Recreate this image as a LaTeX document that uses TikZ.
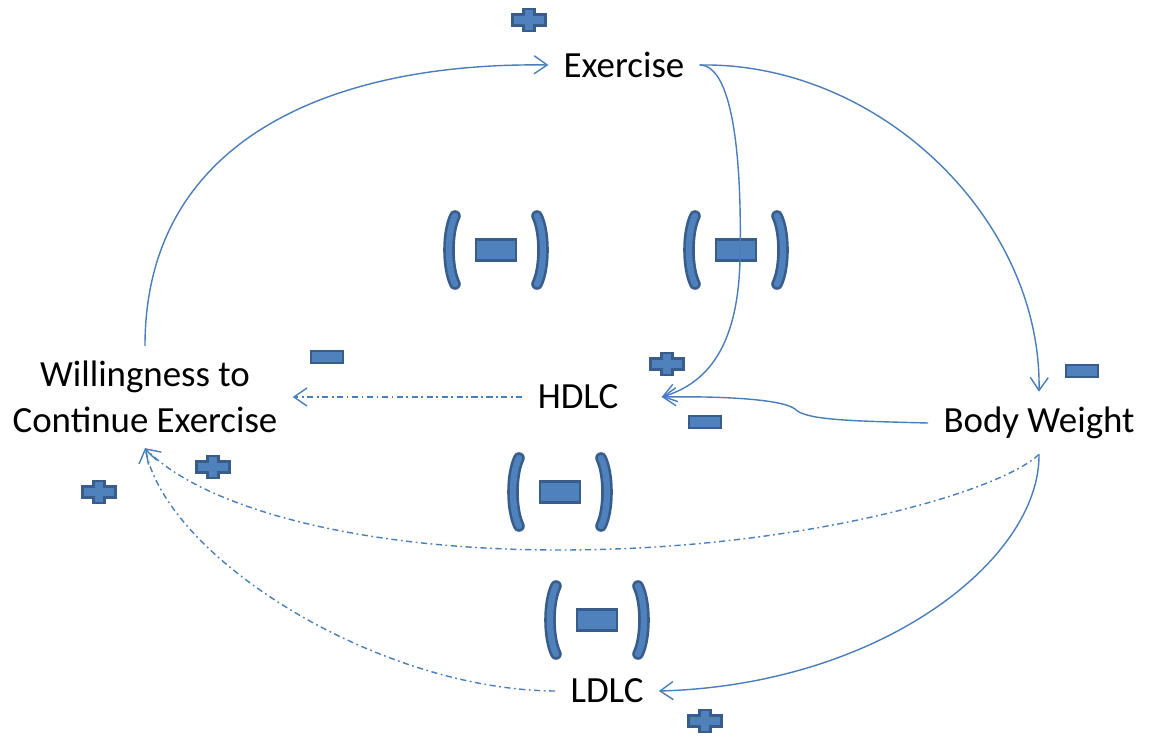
\documentclass[tikz,border=0pt]{standalone}
\usepackage{fontspec}
\setmainfont{Carlito}
\usepackage{xcolor}
\usepackage{tikz}
\usetikzlibrary{arrows.meta}

\definecolor{linkblue}{RGB}{74,126,187}
\definecolor{signblue}{RGB}{79,129,189}
\definecolor{signedge}{RGB}{56,93,138}

\tikzset{
  var/.style={font=\fontsize{21}{26}\selectfont, inner sep=3mm, align=center},
  link/.style={draw=linkblue, line width=0.8pt, -{Straight Barb[length=2.6mm,width=3.6mm]}},
  weak/.style={link, dash pattern=on 3.5pt off 2pt on 1pt off 2pt},
  signfill/.style={fill=signblue, draw=signedge, line width=1.3pt},
  parenedge/.style={draw=signedge, line width=6.6pt, line cap=round},
  parenfill/.style={draw=signblue, line width=3.6pt, line cap=round},
  pics/possign/.style={code={
    \draw[signfill] (-16.5,-5.5) -- (-5.5,-5.5) -- (-5.5,-11) -- (5.5,-11) -- (5.5,-5.5)
      -- (16.5,-5.5) -- (16.5,5.5) -- (5.5,5.5) -- (5.5,11) -- (-5.5,11) -- (-5.5,5.5)
      -- (-16.5,5.5) -- cycle;
  }},
  pics/negsign/.style={code={
    \draw[signfill] (-16,-6) rectangle (16,6);
  }},
  pics/loopneg/.style={code={
    \foreach \s in {-1,1} {
      \draw[parenedge] (\s*41,-34) .. controls (\s*49,-18) and (\s*49,18) .. (\s*41,34);
      \draw[parenfill] (\s*41,-34) .. controls (\s*49,-18) and (\s*49,18) .. (\s*41,34);
    }
    \draw[signfill] (-20,-10.5) rectangle (20,10.5);
  }},
}

\begin{document}
\begin{tikzpicture}[x=0.02cm, y=-0.02cm]
  \useasboundingbox (0,0) rectangle (1153,740);

  % variables
  \node[var] (ex) at (624,65) {Exercise};
  \node[var] (hdlc) at (578,397) {HDLC};
  \node[var] (bw) at (1039,423) {Body Weight};
  \node[var] (will) at (145,397) {Willingness to\\Continue Exercise};
  \node[var] (ldlc) at (607,691) {LDLC};
  \coordinate (hin) at ([xshift=16pt]hdlc.east);

  % loop polarities
  \pic at (496,250) {loopneg};
  \pic at (736,250) {loopneg};
  \pic at (560,492) {loopneg};
  \pic at (597,620) {loopneg};

  % links
  \draw[link] (will.north) .. controls (145,140) and (330,62) .. (ex.west);
  \draw[link] (ex.east) .. controls (880,62) and (1042,220) .. (bw.north);
  \draw[link] (ex.east) .. controls (735,65) and (742,170) .. (740,260)
    .. controls (738,340) and (712,382) .. (hin);
  \draw[link] (bw.west) .. controls (850,421) and (805,420) .. (795,409)
    .. controls (782,399) and (720,396) .. (hin);
  \draw[weak] (hdlc.west) -- (will.east);
  \draw[weak] (bw.south) .. controls (1000,492) and (800,550) .. (560,550)
    .. controls (350,550) and (200,505) .. (will.south);
  \draw[link] (bw.south) .. controls (1040,560) and (880,685) .. (ldlc.east);
  \draw[weak] (ldlc.west) .. controls (380,690) and (168,560) .. (will.south);

  % link polarities
  \pic at (529,20) {possign};
  \pic at (1082,371) {negsign};
  \pic at (667,364) {possign};
  \pic at (705,422) {negsign};
  \pic at (327,357) {negsign};
  \pic at (213,467) {possign};
  \pic at (99,492) {possign};
  \pic at (705,721) {possign};
\end{tikzpicture}
\end{document}
